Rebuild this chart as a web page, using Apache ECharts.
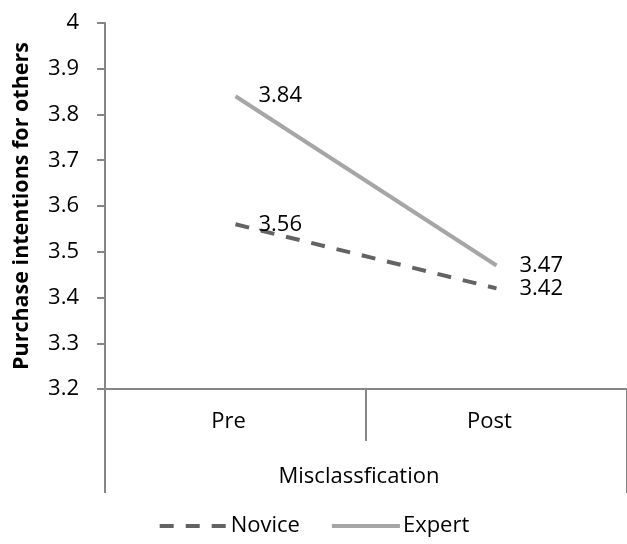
<!DOCTYPE html>
<html>
<head>
<meta charset="utf-8">
<script src="https://cdn.jsdelivr.net/npm/echarts@6/dist/echarts.min.js"></script>
<style>html,body{margin:0;padding:0;background:#fff}#c{width:627px;height:544px}</style>
</head>
<body>
<div id="c"></div>
<script>
var categories = ['Pre', 'Post'];
var novice = [3.56, 3.42];
var expert = [3.84, 3.47];
var yTicks = [3.2, 3.3, 3.4, 3.5, 3.6, 3.7, 3.8, 3.9, 4];
var yTitle = 'Purchase intentions for others';
var xTitle = 'Misclassfication';

var FONT = 'Open Sans';
var AX = '#868686';
var chart = echarts.init(document.getElementById('c'));
var lbl = {
  show: true, position: 'right', distance: 23,
  color: '#000', fontFamily: FONT, fontSize: 22,
  formatter: function (p) { return p.value.toFixed(2); }
};
chart.setOption({
  animation: false,
  backgroundColor: '#fff',
  grid: { left: 105, right: -4, top: 23, bottom: 155, containLabel: false },
  xAxis: [{
    type: 'category', data: categories, boundaryGap: true,
    axisLine: { lineStyle: { color: AX, width: 2 } },
    axisTick: { show: true, length: 52, lineStyle: { color: AX, width: 2 } },
    axisLabel: { color: '#000', fontFamily: FONT, fontSize: 22, margin: 22, padding: [0, 14, 0, 0] },
    name: xTitle, nameLocation: 'middle', nameGap: 77,
    nameTextStyle: { color: '#000', fontFamily: FONT, fontSize: 22, padding: [0, 14, 0, 0] }
  }, {
    type: 'category', data: categories, boundaryGap: true, position: 'bottom',
    axisLine: { show: false },
    axisTick: { show: true, length: 104, interval: function (i) { return i === 0; }, lineStyle: { color: AX, width: 2 } },
    axisLabel: { show: false }
  }],
  yAxis: {
    type: 'value', min: yTicks[0], max: yTicks[yTicks.length - 1], interval: 0.1,
    axisLine: { show: true, lineStyle: { color: AX, width: 2 } },
    axisTick: { show: true, length: 8, lineStyle: { color: AX, width: 2 } },
    splitLine: { show: false },
    axisLabel: {
      color: '#000', fontFamily: FONT, fontSize: 22, margin: 26,
      formatter: function (v) {
        var r = Math.round(v * 10) / 10;
        return yTicks.indexOf(r) >= 0 ? String(r) : '';
      }
    },
    name: yTitle, nameLocation: 'middle', nameGap: 72, nameRotate: 90,
    nameTextStyle: { color: '#000', fontFamily: FONT, fontSize: 21.5, fontWeight: 'bold' }
  },
  legend: {
    bottom: 2, left: 'center', itemWidth: 68, itemHeight: 10, itemGap: 30,
    itemStyle: { opacity: 0 },
    lineStyle: { width: 4 },
    textStyle: { color: '#000', fontFamily: FONT, fontSize: 22, padding: [0, 0, 0, -2] },
    data: ['Novice', 'Expert']
  },
  series: [{
    name: 'Novice', type: 'line', data: novice, xAxisIndex: 0,
    symbol: 'circle', symbolSize: 0, showSymbol: true,
    itemStyle: { color: '#636363' },
    lineStyle: { color: '#636363', width: 4, type: [14, 12] },
    label: lbl
  }, {
    name: 'Expert', type: 'line', data: expert, xAxisIndex: 0,
    symbol: 'circle', symbolSize: 0, showSymbol: true,
    itemStyle: { color: '#A6A6A6' },
    lineStyle: { color: '#A6A6A6', width: 4 },
    label: lbl
  }]
});
</script>
</body>
</html>
